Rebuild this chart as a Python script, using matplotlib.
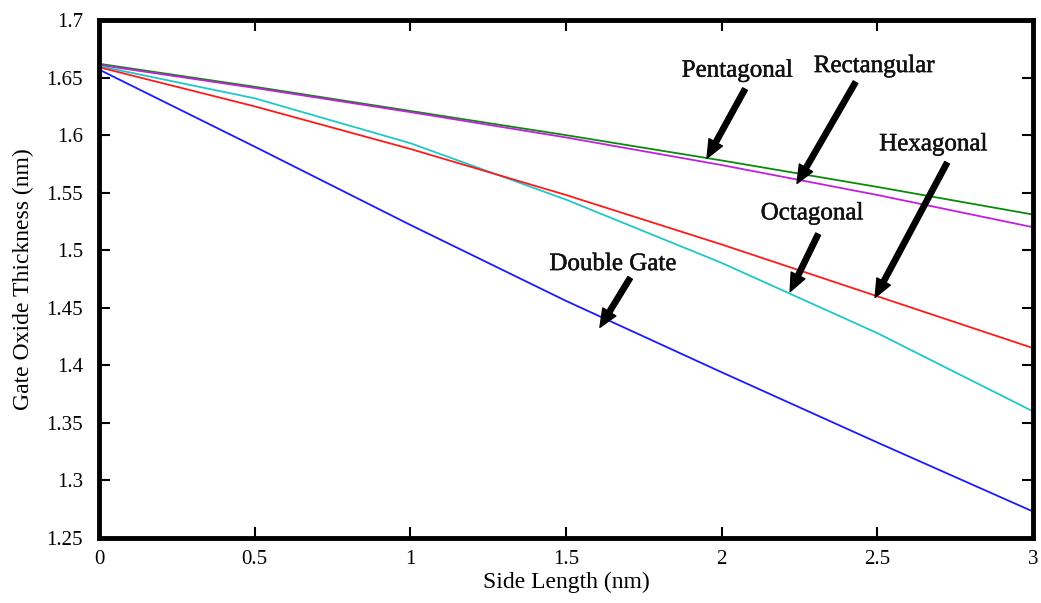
import numpy as np
import matplotlib.pyplot as plt
import matplotlib.ticker as ticker
import matplotlib.patheffects as pe

plt.rcParams['font.family'] = ['Liberation Serif', 'DejaVu Serif']

# side length (nm) and gate oxide thickness (nm) for each geometry
side_len = [0.0, 0.5, 1.0, 1.5, 2.0, 2.5, 3.0]
pentagonal = [1.662, 1.642, 1.621, 1.600, 1.578, 1.555, 1.531]
rectangular = [1.661, 1.641, 1.620, 1.598, 1.574, 1.548, 1.520]
octagonal = [1.660, 1.632, 1.593, 1.544, 1.489, 1.428, 1.360]
hexagonal = [1.659, 1.625, 1.588, 1.548, 1.505, 1.460, 1.415]
double_gate = [1.657, 1.590, 1.522, 1.456, 1.394, 1.333, 1.273]

series = [
    (pentagonal, '#0a8a0a'),
    (rectangular, '#c21fe0'),
    (octagonal, '#1fc8c8'),
    (hexagonal, '#ff1a1a'),
    (double_gate, '#1a1aff'),
]

# label text position, arrow tail, arrow head
notes = [
    ('Pentagonal', (2.05, 1.656), (2.075, 1.640), (1.953, 1.580)),
    ('Rectangular', (2.49, 1.660), (2.43, 1.646), (2.242, 1.558)),
    ('Hexagonal', (2.68, 1.592), (2.724, 1.576), (2.493, 1.459)),
    ('Octagonal', (2.29, 1.532), (2.31, 1.514), (2.22, 1.464)),
    ('Double Gate', (1.651, 1.488), (1.706, 1.476), (1.609, 1.433)),
]

fig = plt.figure(figsize=(10.41, 6.03), dpi=100)
ax = fig.add_axes([0.0951, 0.1078, 0.8972, 0.859])

for vals, col in series:
    ax.plot(side_len, vals, color=col, lw=1.3)

for txt, pos, tail, head in notes:
    ax.text(pos[0], pos[1], txt, ha='center', va='center', fontsize=18,
            color='#111111',
            path_effects=[pe.withStroke(linewidth=0.35, foreground='#111111')])
    ax.annotate('', xy=head, xytext=tail,
                arrowprops=dict(facecolor='black', edgecolor='black',
                                width=3.8, headwidth=11, headlength=13, shrink=0))

ax.set_xlim(0, 3)
ax.set_ylim(1.25, 1.7)
ax.xaxis.set_major_locator(ticker.MultipleLocator(0.5))
ax.yaxis.set_major_locator(ticker.MultipleLocator(0.05))
ax.xaxis.set_major_formatter(ticker.FormatStrFormatter('%g'))
ax.yaxis.set_major_formatter(ticker.FormatStrFormatter('%g'))
ax.tick_params(direction='in', length=8, width=1.5, top=True, right=True,
               labelsize=15)
ax.tick_params(axis='y', pad=11.5)
ax.tick_params(axis='x', pad=8.5)
for sp in ax.spines.values():
    sp.set_linewidth(3.5)

ax.set_xlabel('Side Length (nm)', fontsize=17, labelpad=2)
ax.set_ylabel('Gate Oxide Thickness (nm)', fontsize=17, labelpad=9)

fig.savefig('out.png', dpi=100)
